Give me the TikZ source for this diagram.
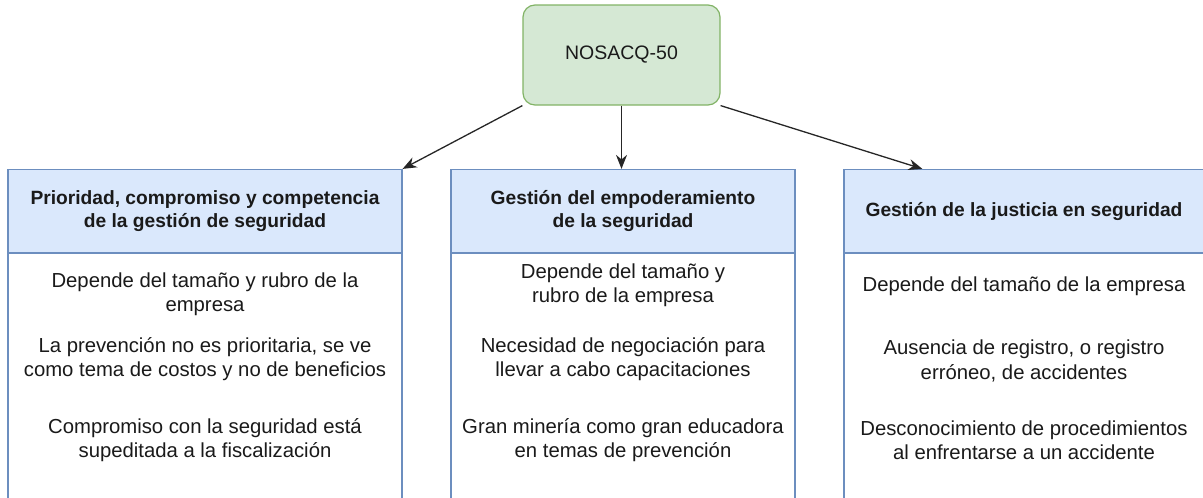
\documentclass[tikz,border=0pt]{standalone}
\usepackage{fontspec}
\setmainfont{Liberation Sans}
\usetikzlibrary{arrows.meta,calc}
\definecolor{gfill}{HTML}{D5E8D4}
\definecolor{gline}{HTML}{82B366}
\definecolor{bfill}{HTML}{DAE8FC}
\definecolor{bline}{HTML}{6C8EBF}
\definecolor{txt}{HTML}{1A1A1A}
\tikzset{
  topbox/.style={draw=gline, fill=gfill, line width=1.2pt, rounded corners=12pt,
    minimum width=197pt, minimum height=100pt, inner sep=0pt, font=\fontsize{19.5}{23.5}\selectfont, text=txt},
  headbox/.style={draw=bline, fill=bfill, line width=1.2pt, inner sep=0pt,
    minimum height=83pt, align=center, font=\bfseries\fontsize{19.2}{23}\selectfont, text=txt},
  bodytext/.style={align=center, inner sep=0pt, font=\fontsize{20.3}{24.5}\selectfont, text=txt},
  conn/.style={line width=1.3pt, draw=black!85, -{Stealth[length=14pt,width=11pt]}}
}
\begin{document}
\begin{tikzpicture}[x=1pt,y=-1pt]
\useasboundingbox (0,0) rectangle (1203,498);
\clip (0,0) rectangle (1203,498);
% body rectangles (run past the bottom edge)
\draw[draw=bline, fill=white, line width=1.2pt] (8,253) rectangle (402,520);
\draw[draw=bline, fill=white, line width=1.2pt] (451,253) rectangle (795,520);
\draw[draw=bline, fill=white, line width=1.2pt] (844,253) rectangle (1204,520);
% headers
\node[headbox, minimum width=394pt] (h1) at (205,211) {Prioridad, compromiso y competencia\\de la gestión de seguridad};
\node[headbox, minimum width=344pt] (h2) at (623,211) {Gestión del empoderamiento\\de la seguridad};
\node[headbox, minimum width=360pt] (h3) at (1024,211) {Gestión de la justicia en seguridad};
% top node
\node[topbox] (top) at (621.5,55) {NOSACQ-50};
% connectors
\coordinate (t3) at ($(h3.north west)+(79,0)$);
\draw[conn] (top.south west) -- (h1.north east);
\draw[conn] (top.south) -- (top.south |- h2.north);
\draw[conn] (top.south east) -- (t3);
% body texts
\node[bodytext] (a1) at (205,294) {Depende del tamaño y rubro de la\\empresa};
\node[bodytext] (a2) at (205,359) {La prevención no es prioritaria, se ve\\como tema de costos y no de beneficios};
\node[bodytext] (a3) at (205,440) {Compromiso con la seguridad está\\supeditada a la fiscalización};
\node[bodytext] (b1) at (623,285) {Depende del tamaño y\\rubro de la empresa};
\node[bodytext] (b2) at (623,359) {Necesidad de negociación para\\llevar a cabo capacitaciones};
\node[bodytext] (b3) at (623,440) {Gran minería como gran educadora\\en temas de prevención};
\node[bodytext] (c1) at (1024,286) {Depende del tamaño de la empresa};
\node[bodytext] (c2) at (1024,361) {Ausencia de registro, o registro\\erróneo, de accidentes};
\node[bodytext] (c3) at (1024,440) {Desconocimiento de procedimientos\\al enfrentarse a un accidente};
\end{tikzpicture}
\end{document}
